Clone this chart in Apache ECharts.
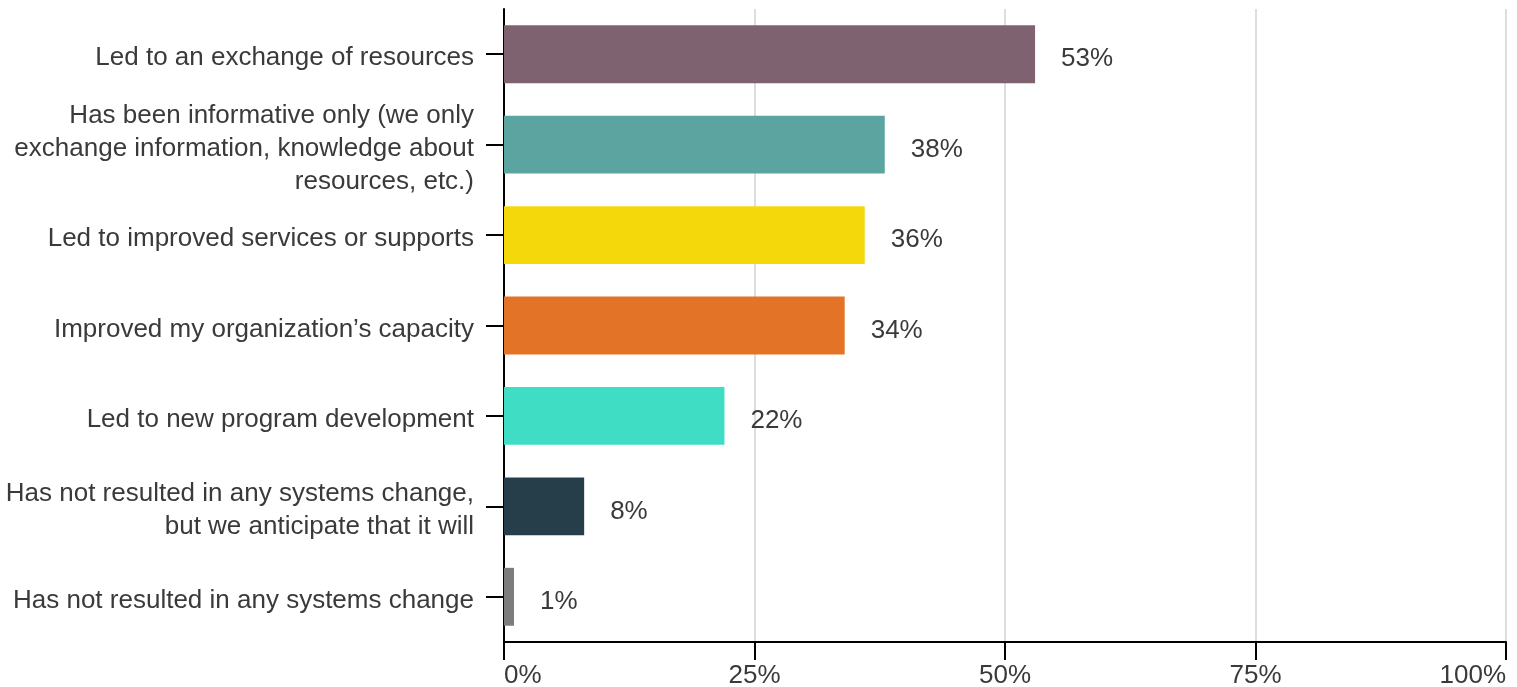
<!DOCTYPE html>
<html>
<head>
<meta charset="utf-8">
<script src="https://cdn.jsdelivr.net/npm/echarts@6/dist/echarts.min.js"></script>
<style>
  html, body { margin: 0; padding: 0; background: #fff; }
  #chart { width: 1517px; height: 687px; }
</style>
</head>
<body>
<div id="chart"></div>
<script>
// Survey responses: how the collaboration has affected systems change
const categories = [
  'Led to an exchange of resources',
  'Has been informative only (we only\nexchange information, knowledge about\nresources, etc.)',
  'Led to improved services or supports',
  'Improved my organization\u2019s capacity',
  'Led to new program development',
  'Has not resulted in any systems change,\nbut we anticipate that it will',
  'Has not resulted in any systems change'
];
const percents = [53, 38, 36, 34, 22, 8, 1];
const barColors = ['#7f6270', '#5ba4a0', '#f5d80c', '#e37326', '#3eddc4', '#263d4a', '#7c7c7c'];
const xTicks = [0, 25, 50, 75, 100];

const textColor = '#3a3a3a';
const fontFamily = '"Liberation Sans", Arial, Helvetica, sans-serif';

const chart = echarts.init(document.getElementById('chart'), null, { renderer: 'canvas' });

chart.setOption({
  animation: false,
  grid: { left: 504, right: 11, top: 9, bottom: 45, containLabel: false, outerBoundsMode: 'none' },
  xAxis: {
    type: 'value',
    min: xTicks[0],
    max: xTicks[xTicks.length - 1],
    interval: 25,
    axisLine: { show: true, lineStyle: { color: '#000', width: 2 } },
    axisTick: { show: true, length: 18, lineStyle: { color: '#000', width: 2 } },
    splitLine: { show: true, lineStyle: { color: '#dddddd', width: 2 } },
    axisLabel: {
      color: textColor,
      fontSize: 26,
      fontFamily: fontFamily,
      margin: 21,
      formatter: v => v + '%',
      alignMinLabel: 'left',
      alignMaxLabel: 'right'
    }
  },
  yAxis: {
    type: 'category',
    inverse: true,
    data: categories,
    axisLine: { show: true, lineStyle: { color: '#000', width: 2 } },
    axisTick: { show: true, length: 18, alignWithLabel: true, lineStyle: { color: '#000', width: 2 } },
    axisLabel: {
      color: textColor,
      fontSize: 26,
      lineHeight: 33,
      fontFamily: fontFamily,
      margin: 30,
      align: 'right',
      formatter: v => '{c|' + v + '}',
      rich: {
        c: {
          color: textColor,
          fontSize: 26,
          lineHeight: 33,
          fontFamily: fontFamily,
          align: 'right',
          padding: [8, 0, 0, 0]
        }
      }
    }
  },
  series: [{
    type: 'bar',
    data: percents.map((v, i) => ({ value: v, itemStyle: { color: barColors[i] } })),
    barCategoryGap: '36%',
    label: {
      show: true,
      position: 'right',
      distance: 26,
      offset: [0, 5],
      color: textColor,
      fontSize: 26,
      fontFamily: fontFamily,
      formatter: p => p.value + '%'
    }
  }]
});
</script>
</body>
</html>
